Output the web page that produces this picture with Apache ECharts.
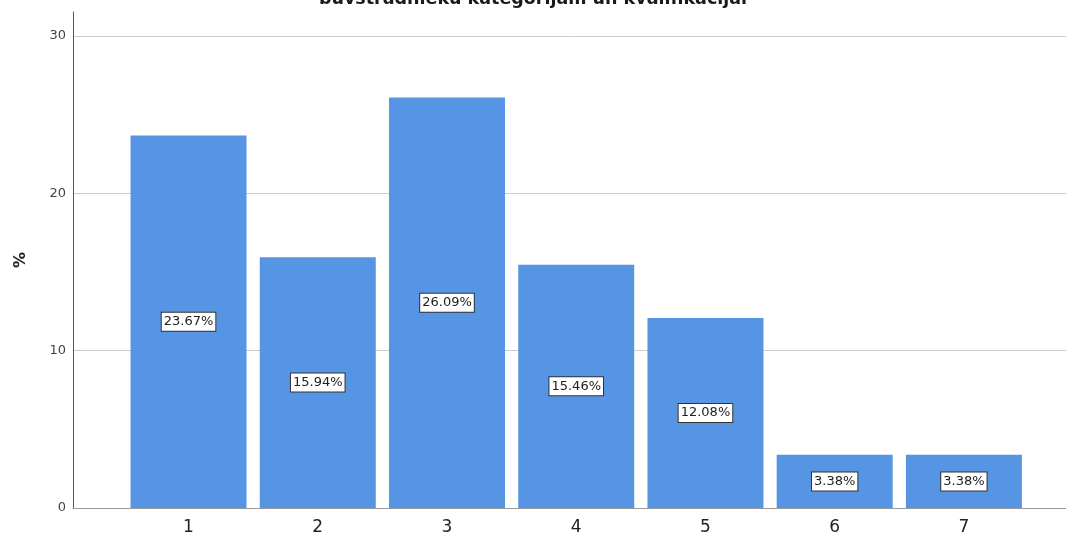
<!DOCTYPE html>
<html>
<head>
<meta charset="utf-8">
<script src="https://cdn.jsdelivr.net/npm/echarts@6/dist/echarts.min.js"></script>
<style>html,body{margin:0;padding:0;background:#fff}#c{width:1066px;height:537px}</style>
</head>
<body>
<div id="c"></div>
<script>
const titleText = 'būvstrādnieku kategorijām un kvalifikācijai';
const categories = [1, 2, 3, 4, 5, 6, 7];
const percentValues = [23.67, 15.94, 26.09, 15.46, 12.08, 3.38, 3.38];
const yTicks = [0, 10, 20, 30];

const chart = echarts.init(document.getElementById('c'), null, {renderer: 'canvas'});
chart.setOption({
  animation: false,
  backgroundColor: '#ffffff',
  title: {
    text: titleText,
    left: 'center',
    top: -15,
    textStyle: {fontFamily: 'DejaVu Sans', fontSize: 17.5, fontWeight: 'bold', color: '#1a1a1a'}
  },
  grid: {left: 73, right: 0, top: 12, bottom: 29, containLabel: false},
  xAxis: {
    type: 'value',
    min: 0.106,
    max: 7.79,
    axisLine: {show: true, lineStyle: {color: '#9a9a9a', width: 1}},
    axisTick: {show: false},
    splitLine: {show: false},
    axisLabel: {
      customValues: categories,
      formatter: v => String(Math.round(v)),
      fontFamily: 'DejaVu Sans',
      fontSize: 17,
      color: '#222',
      margin: 11
    }
  },
  yAxis: {
    type: 'value',
    min: 0,
    max: 31.52,
    interval: 10,
    name: '%',
    nameLocation: 'middle',
    nameGap: 44,
    nameRotate: 90,
    nameTextStyle: {fontFamily: 'DejaVu Sans', fontSize: 16, fontWeight: 'bold', color: '#222'},
    axisLine: {show: true, lineStyle: {color: '#555', width: 1}},
    axisTick: {show: false},
    axisLabel: {
      customValues: yTicks,
      fontFamily: 'DejaVu Sans',
      fontSize: 13,
      color: '#444',
      margin: 7
    },
    splitLine: {show: true, lineStyle: {color: ['#cccccc', '#cccccc', '#cccccc', '#cccccc', 'rgba(0,0,0,0)'], width: 1}}
  },
  series: [{
    type: 'bar',
    data: categories.map((c, i) => [c, percentValues[i]]),
    barWidth: 116,
    itemStyle: {color: '#5595e3'},
    label: {
      show: true,
      position: 'inside',
      formatter: p => p.value[1].toFixed(2) + '%',
      fontFamily: 'DejaVu Sans',
      fontSize: 13,
      color: '#222',
      backgroundColor: '#ffffff',
      borderColor: '#333',
      borderWidth: 1,
      padding: [3, 2, 2, 2]
    }
  }]
});
</script>
</body>
</html>
